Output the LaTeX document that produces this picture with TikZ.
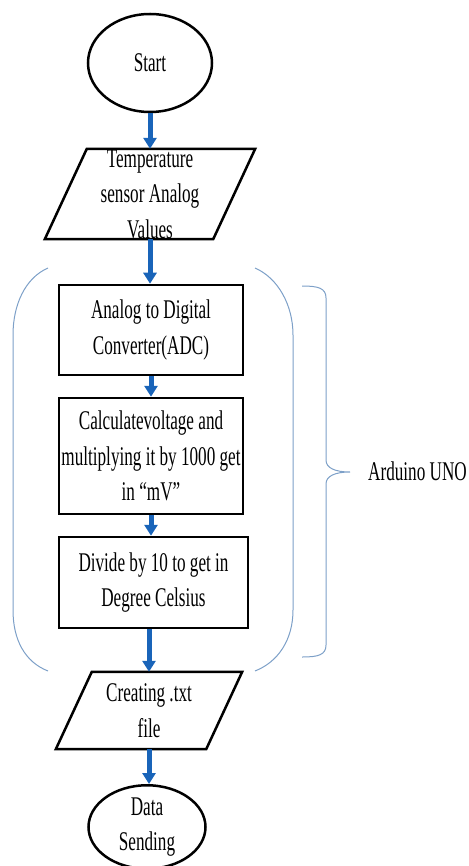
\documentclass[tikz,border=0pt]{standalone}
\usepackage{fontspec}
\setmainfont{Liberation Serif}[FakeStretch=0.635]
\usetikzlibrary{shapes.geometric,arrows.meta,calc}
\definecolor{arrowblue}{RGB}{25,100,185}
\definecolor{parenblue}{RGB}{125,160,200}
\begin{document}
\begin{tikzpicture}[x=1pt,y=-1pt,
  every node/.style={font=\fontsize{27}{35.5}\selectfont, inner sep=0pt, align=center},
  term/.style={ellipse, draw=black, line width=2.5pt},
  proc/.style={rectangle, draw=black, line width=2.5pt},
  io/.style={rectangle},
  para/.style={draw=black, line width=2.5pt, line join=miter},
  flow/.style={draw=arrowblue, line width=5pt, -{Triangle[width=13pt,length=11pt]}},
  group/.style={draw=parenblue, line width=1pt}]
\useasboundingbox (0,0) rectangle (468,866);

% nodes
\node[term, minimum width=124pt, minimum height=98pt] (start) at (150,63) {Start};
\node[io, minimum width=168pt, minimum height=90pt] (p1) at (150,194) {Temperature\\sensor Analog\\Values};
\node[proc, minimum width=184pt, minimum height=90pt] (b1) at (151,330) {Analog to Digital\\Converter(ADC)};
\node[proc, minimum width=184pt, minimum height=116pt] (b2) at (151,456) {Calculatevoltage and\\multiplying it by 1000 get\\in “mV”};
\node[proc, minimum width=189pt, minimum height=91pt] (b3) at (153.5,582.5) {Divide by 10 to get in\\Degree Celsius};
\node[io, minimum width=150pt, minimum height=77pt] (p2) at (149,710.5) {Creating .txt\\file};
\node[term, minimum width=117pt, minimum height=80pt] (end) at (147,827) {Data\\Sending};

% parallelograms
\draw[para] ([xshift=21pt]p1.north west) -- ([xshift=21pt]p1.north east)
  -- ([xshift=-21pt]p1.south east) -- ([xshift=-21pt]p1.south west) -- cycle;
\draw[para] ([xshift=18pt]p2.north west) -- ([xshift=18pt]p2.north east)
  -- ([xshift=-18pt]p2.south east) -- ([xshift=-18pt]p2.south west) -- cycle;

% flow arrows
\draw[flow] (start.south) -- (start.south |- p1.north);
\draw[flow] (p1.south) -- (p1.south |- b1.north);
\draw[flow] (b1.south) -- (b2.north);
\draw[flow] (b2.south) -- (b2.south |- b3.north);
\draw[flow] (p2.north |- b3.south) -- (p2.north);
\draw[flow] (p2.south) -- (p2.south |- end.north);

% big parentheses
\draw[group] (48,268) .. controls (25,278) and (13,305) .. (13,335) -- (13,610)
  .. controls (13,640) and (25,662) .. (48,671);
\draw[group] (255,268) .. controls (278,278) and (293,305) .. (293,335) -- (293,610)
  .. controls (293,640) and (278,662) .. (255,671);

% brace
\coordinate (tip) at (350,472);
\draw[group] (302,286) .. controls (318,286) and (326,288) .. (326,298) -- (326,460)
  .. controls (326,468) and (335,472) .. (tip)
  .. controls (335,472) and (326,476) .. (326,484) -- (326,645)
  .. controls (326,655) and (318,657) .. (302,657);
\node[anchor=base west] (uno) at (368,480) {Arduino UNO};
\end{tikzpicture}
\end{document}
